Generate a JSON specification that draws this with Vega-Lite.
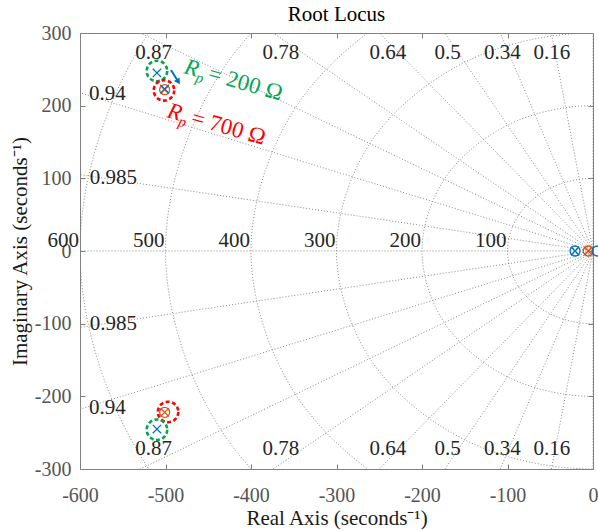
{
  "$schema": "https://vega.github.io/schema/vega-lite/v6.json",
  "width": 513,
  "height": 436,
  "autosize": {"type": "none"},
  "padding": {"left": 80, "top": 33, "right": 5, "bottom": 62},
  "title": {
    "text": "Root Locus",
    "font": "Liberation Serif",
    "fontSize": 21,
    "fontWeight": "normal",
    "color": "#000000",
    "anchor": "middle",
    "offset": 8,
    "dy": 10
  },
  "config": {
    "view": {"stroke": null},
    "axis": {
      "labelFont": "Liberation Serif",
      "labelFontSize": 20,
      "labelColor": "#555555",
      "titleFont": "Liberation Serif",
      "titleFontSize": 21,
      "titleFontWeight": "normal",
      "titleColor": "#1a1a1a",
      "domainColor": "#808080",
      "tickColor": "#808080",
      "tickSize": -5,
      "grid": false,
      "labelFlush": false,
      "labelExpr": "replace(datum.label, '\u2212', '-')"
    }
  },
  "datasets": {
    "dampingLines": [
      {"g": "0.16", "i": 0, "x": -112, "y": 691}, {"g": "0.16", "i": 1, "x": 0, "y": 0}, {"g": "0.16", "i": 2, "x": -112, "y": -691},
      {"g": "0.34", "i": 0, "x": -238, "y": 658.3}, {"g": "0.34", "i": 1, "x": 0, "y": 0}, {"g": "0.34", "i": 2, "x": -238, "y": -658.3},
      {"g": "0.5", "i": 0, "x": -350, "y": 606.2}, {"g": "0.5", "i": 1, "x": 0, "y": 0}, {"g": "0.5", "i": 2, "x": -350, "y": -606.2},
      {"g": "0.64", "i": 0, "x": -448, "y": 537.9}, {"g": "0.64", "i": 1, "x": 0, "y": 0}, {"g": "0.64", "i": 2, "x": -448, "y": -537.9},
      {"g": "0.78", "i": 0, "x": -546, "y": 438}, {"g": "0.78", "i": 1, "x": 0, "y": 0}, {"g": "0.78", "i": 2, "x": -546, "y": -438},
      {"g": "0.87", "i": 0, "x": -609, "y": 345.1}, {"g": "0.87", "i": 1, "x": 0, "y": 0}, {"g": "0.87", "i": 2, "x": -609, "y": -345.1},
      {"g": "0.94", "i": 0, "x": -658, "y": 238.8}, {"g": "0.94", "i": 1, "x": 0, "y": 0}, {"g": "0.94", "i": 2, "x": -658, "y": -238.8},
      {"g": "0.985", "i": 0, "x": -689.5, "y": 120.8}, {"g": "0.985", "i": 1, "x": 0, "y": 0}, {"g": "0.985", "i": 2, "x": -689.5, "y": -120.8},
      {"g": "1", "i": 0, "x": -700, "y": 0}, {"g": "1", "i": 1, "x": 0, "y": 0},
      {"g": "0", "i": 0, "x": 0, "y": 700}, {"g": "0", "i": 1, "x": 0, "y": -700}
    ],
    "frequencyArcs": [
      {"w": 100, "i": 0, "x": 50, "y": 86.6}, {"w": 100, "i": 1, "x": 0, "y": 100}, {"w": 100, "i": 2, "x": -50, "y": 86.6},
      {"w": 100, "i": 3, "x": -86.6, "y": 50}, {"w": 100, "i": 4, "x": -100, "y": 0}, {"w": 100, "i": 5, "x": -86.6, "y": -50},
      {"w": 100, "i": 6, "x": -50, "y": -86.6}, {"w": 100, "i": 7, "x": 0, "y": -100}, {"w": 100, "i": 8, "x": 50, "y": -86.6},
      {"w": 200, "i": 0, "x": 100, "y": 173.2}, {"w": 200, "i": 1, "x": 0, "y": 200}, {"w": 200, "i": 2, "x": -100, "y": 173.2},
      {"w": 200, "i": 3, "x": -173.2, "y": 100}, {"w": 200, "i": 4, "x": -200, "y": 0}, {"w": 200, "i": 5, "x": -173.2, "y": -100},
      {"w": 200, "i": 6, "x": -100, "y": -173.2}, {"w": 200, "i": 7, "x": 0, "y": -200}, {"w": 200, "i": 8, "x": 100, "y": -173.2},
      {"w": 300, "i": 0, "x": 150, "y": 259.8}, {"w": 300, "i": 1, "x": 0, "y": 300}, {"w": 300, "i": 2, "x": -150, "y": 259.8},
      {"w": 300, "i": 3, "x": -259.8, "y": 150}, {"w": 300, "i": 4, "x": -300, "y": 0}, {"w": 300, "i": 5, "x": -259.8, "y": -150},
      {"w": 300, "i": 6, "x": -150, "y": -259.8}, {"w": 300, "i": 7, "x": 0, "y": -300}, {"w": 300, "i": 8, "x": 150, "y": -259.8},
      {"w": 400, "i": 0, "x": 200, "y": 346.4}, {"w": 400, "i": 1, "x": 0, "y": 400}, {"w": 400, "i": 2, "x": -200, "y": 346.4},
      {"w": 400, "i": 3, "x": -346.4, "y": 200}, {"w": 400, "i": 4, "x": -400, "y": 0}, {"w": 400, "i": 5, "x": -346.4, "y": -200},
      {"w": 400, "i": 6, "x": -200, "y": -346.4}, {"w": 400, "i": 7, "x": 0, "y": -400}, {"w": 400, "i": 8, "x": 200, "y": -346.4},
      {"w": 500, "i": 0, "x": 250, "y": 433}, {"w": 500, "i": 1, "x": 0, "y": 500}, {"w": 500, "i": 2, "x": -250, "y": 433},
      {"w": 500, "i": 3, "x": -433, "y": 250}, {"w": 500, "i": 4, "x": -500, "y": 0}, {"w": 500, "i": 5, "x": -433, "y": -250},
      {"w": 500, "i": 6, "x": -250, "y": -433}, {"w": 500, "i": 7, "x": 0, "y": -500}, {"w": 500, "i": 8, "x": 250, "y": -433},
      {"w": 600, "i": 0, "x": 300, "y": 519.6}, {"w": 600, "i": 1, "x": 0, "y": 600}, {"w": 600, "i": 2, "x": -300, "y": 519.6},
      {"w": 600, "i": 3, "x": -519.6, "y": 300}, {"w": 600, "i": 4, "x": -600, "y": 0}, {"w": 600, "i": 5, "x": -519.6, "y": -300},
      {"w": 600, "i": 6, "x": -300, "y": -519.6}, {"w": 600, "i": 7, "x": 0, "y": -600}, {"w": 600, "i": 8, "x": 300, "y": -519.6}
    ],
    "dampingLabels": [
      {"t": "0.87", "x": -514, "y": 273}, {"t": "0.78", "x": -365, "y": 273}, {"t": "0.64", "x": -240, "y": 273},
      {"t": "0.5", "x": -170, "y": 273}, {"t": "0.34", "x": -106, "y": 273}, {"t": "0.16", "x": -48, "y": 273},
      {"t": "0.94", "x": -568, "y": 216}, {"t": "0.985", "x": -561, "y": 100.5},
      {"t": "0.87", "x": -514, "y": -273}, {"t": "0.78", "x": -365, "y": -273}, {"t": "0.64", "x": -240, "y": -273},
      {"t": "0.5", "x": -170, "y": -273}, {"t": "0.34", "x": -106, "y": -273}, {"t": "0.16", "x": -48, "y": -273},
      {"t": "0.94", "x": -568, "y": -216}, {"t": "0.985", "x": -561, "y": -100.5}
    ],
    "frequencyLabels": [
      {"t": "600", "x": -600, "y": 0}, {"t": "500", "x": -500, "y": 0}, {"t": "400", "x": -400, "y": 0},
      {"t": "300", "x": -300, "y": 0}, {"t": "200", "x": -200, "y": 0}, {"t": "100", "x": -100, "y": 0}
    ],
    "poles": [
      {"case": "700", "x": -501, "y": 222}, {"case": "700", "x": -501, "y": -222}, {"case": "700", "x": -5.5, "y": 0},
      {"case": "200", "x": -510, "y": 245}, {"case": "200", "x": -510, "y": -245}, {"case": "200", "x": -21, "y": 0},
      {"case": "200", "x": -501, "y": 223}
    ],
    "zeros": [
      {"case": "700", "x": -501, "y": 222}, {"case": "700", "x": -501, "y": -222}, {"case": "700", "x": -5.5, "y": 0},
      {"case": "200", "x": -21, "y": 0}, {"case": "200", "x": 5, "y": 0}
    ],
    "highlights": [
      {"case": "200", "x": -510, "y": 247.7}, {"case": "700", "x": -501.8, "y": 221},
      {"case": "700", "x": -497, "y": -221.5}, {"case": "200", "x": -510, "y": -246}
    ],
    "notes": [
      {"case": "200", "x": -479.5, "y": 245, "rest": "= 200 \u03a9"},
      {"case": "700", "x": -499.4, "y": 184.4, "rest": "= 700 \u03a9"}
    ],
    "arrow": [
      {"x0": -493.6, "y0": 249, "x1": -485, "y1": 233}
    ]
  },
  "resolve": {
    "axis": {"x": "independent", "y": "independent"},
    "scale": {"color": "independent"}
  },
  "layer": [
    {
      "data": {"name": "dampingLines"},
      "mark": {"type": "line", "clip": true, "color": "#8a8a8a", "strokeWidth": 1, "strokeDash": [1, 2]},
      "encoding": {
        "x": {
          "field": "x", "type": "quantitative",
          "scale": {"domain": [-600, 0], "nice": false, "zero": false},
          "axis": {
            "orient": "bottom",
            "values": [-600, -500, -400, -300, -200, -100, 0],
            "title": "Real Axis (seconds\u207b\u00b9)",
            "labelPadding": 21,
            "titlePadding": 2
          }
        },
        "y": {
          "field": "y", "type": "quantitative",
          "scale": {"domain": [-300, 300], "nice": false, "zero": false},
          "axis": {
            "orient": "left",
            "values": [-300, -200, -100, 0, 100, 200, 300],
            "title": "Imaginary Axis (seconds\u207b\u00b9)",
            "labelPadding": 14,
            "titlePadding": 4
          }
        },
        "detail": {"field": "g", "type": "nominal"},
        "order": {"field": "i", "type": "quantitative"}
      }
    },
    {
      "data": {"name": "frequencyArcs"},
      "mark": {"type": "line", "clip": true, "color": "#8a8a8a", "strokeWidth": 1, "strokeDash": [1, 2], "interpolate": "catmull-rom"},
      "encoding": {
        "x": {"field": "x", "type": "quantitative", "scale": {"domain": [-600, 0], "nice": false, "zero": false},
          "axis": {"orient": "top", "values": [-600, -500, -400, -300, -200, -100, 0], "labels": false, "title": null}},
        "y": {"field": "y", "type": "quantitative", "scale": {"domain": [-300, 300], "nice": false, "zero": false},
          "axis": {"orient": "right", "values": [-300, -200, -100, 0, 100, 200, 300], "labels": false, "title": null}},
        "detail": {"field": "w", "type": "nominal"},
        "order": {"field": "i", "type": "quantitative"}
      }
    },
    {
      "data": {"name": "dampingLabels"},
      "mark": {"type": "text", "font": "Liberation Serif", "fontSize": 21, "color": "#262626", "align": "center", "baseline": "middle"},
      "encoding": {
        "x": {"field": "x", "type": "quantitative", "scale": {"domain": [-600, 0], "nice": false, "zero": false}, "axis": null},
        "y": {"field": "y", "type": "quantitative", "scale": {"domain": [-300, 300], "nice": false, "zero": false}, "axis": null},
        "text": {"field": "t", "type": "nominal"}
      }
    },
    {
      "data": {"name": "frequencyLabels"},
      "mark": {"type": "text", "font": "Liberation Serif", "fontSize": 21, "color": "#262626", "align": "right", "baseline": "alphabetic", "dx": -1, "dy": -4},
      "encoding": {
        "x": {"field": "x", "type": "quantitative", "scale": {"domain": [-600, 0], "nice": false, "zero": false}, "axis": null},
        "y": {"field": "y", "type": "quantitative", "scale": {"domain": [-300, 300], "nice": false, "zero": false}, "axis": null},
        "text": {"field": "t", "type": "nominal"}
      }
    },
    {
      "data": {"name": "zeros"},
      "mark": {"type": "point", "shape": "circle", "filled": false, "size": 100, "strokeWidth": 1.3, "opacity": 1},
      "encoding": {
        "x": {"field": "x", "type": "quantitative", "scale": {"domain": [-600, 0], "nice": false, "zero": false}, "axis": null},
        "y": {"field": "y", "type": "quantitative", "scale": {"domain": [-300, 300], "nice": false, "zero": false}, "axis": null},
        "color": {"field": "case", "type": "nominal", "scale": {"domain": ["200", "700"], "range": ["#0072BD", "#D95319"]}, "legend": null}
      }
    },
    {
      "data": {"name": "poles"},
      "mark": {"type": "point", "shape": "M-1,-1L1,1M-1,1L1,-1", "filled": false, "size": 70, "strokeWidth": 1.3, "opacity": 1},
      "encoding": {
        "x": {"field": "x", "type": "quantitative", "scale": {"domain": [-600, 0], "nice": false, "zero": false}, "axis": null},
        "y": {"field": "y", "type": "quantitative", "scale": {"domain": [-300, 300], "nice": false, "zero": false}, "axis": null},
        "color": {"field": "case", "type": "nominal", "scale": {"domain": ["200", "700"], "range": ["#0072BD", "#D95319"]}, "legend": null}
      }
    },
    {
      "data": {"name": "highlights"},
      "mark": {"type": "point", "shape": "circle", "filled": false, "size": 420, "strokeWidth": 2.6, "strokeDash": [4, 2.5], "opacity": 1},
      "encoding": {
        "x": {"field": "x", "type": "quantitative", "scale": {"domain": [-600, 0], "nice": false, "zero": false}, "axis": null},
        "y": {"field": "y", "type": "quantitative", "scale": {"domain": [-300, 300], "nice": false, "zero": false}, "axis": null},
        "color": {"field": "case", "type": "nominal", "scale": {"domain": ["200", "700"], "range": ["#00A651", "#FF0000"]}, "legend": null}
      }
    },
    {
      "data": {"name": "notes"},
      "mark": {"type": "text", "text": "R", "font": "Liberation Serif", "fontStyle": "italic", "fontSize": 23, "align": "left", "baseline": "alphabetic", "angle": 16},
      "encoding": {
        "x": {"field": "x", "type": "quantitative", "scale": {"domain": [-600, 0], "nice": false, "zero": false}, "axis": null},
        "y": {"field": "y", "type": "quantitative", "scale": {"domain": [-300, 300], "nice": false, "zero": false}, "axis": null},
        "color": {"field": "case", "type": "nominal", "scale": {"domain": ["200", "700"], "range": ["#00A651", "#FF0000"]}, "legend": null}
      }
    },
    {
      "data": {"name": "notes"},
      "mark": {"type": "text", "text": "p", "font": "Liberation Serif", "fontStyle": "italic", "fontSize": 15, "align": "left", "baseline": "alphabetic", "angle": 16, "dx": 13.5, "dy": 5},
      "encoding": {
        "x": {"field": "x", "type": "quantitative", "scale": {"domain": [-600, 0], "nice": false, "zero": false}, "axis": null},
        "y": {"field": "y", "type": "quantitative", "scale": {"domain": [-300, 300], "nice": false, "zero": false}, "axis": null},
        "color": {"field": "case", "type": "nominal", "scale": {"domain": ["200", "700"], "range": ["#00A651", "#FF0000"]}, "legend": null}
      }
    },
    {
      "data": {"name": "notes"},
      "mark": {"type": "text", "font": "Liberation Serif", "fontSize": 23, "align": "left", "baseline": "alphabetic", "angle": 16, "dx": 25},
      "encoding": {
        "x": {"field": "x", "type": "quantitative", "scale": {"domain": [-600, 0], "nice": false, "zero": false}, "axis": null},
        "y": {"field": "y", "type": "quantitative", "scale": {"domain": [-300, 300], "nice": false, "zero": false}, "axis": null},
        "text": {"field": "rest", "type": "nominal"},
        "color": {"field": "case", "type": "nominal", "scale": {"domain": ["200", "700"], "range": ["#00A651", "#FF0000"]}, "legend": null}
      }
    },
    {
      "data": {"name": "arrow"},
      "mark": {"type": "rule", "color": "#0070C0", "strokeWidth": 2},
      "encoding": {
        "x": {"field": "x0", "type": "quantitative", "scale": {"domain": [-600, 0], "nice": false, "zero": false}, "axis": null},
        "y": {"field": "y0", "type": "quantitative", "scale": {"domain": [-300, 300], "nice": false, "zero": false}, "axis": null},
        "x2": {"field": "x1"},
        "y2": {"field": "y1"}
      }
    },
    {
      "data": {"name": "arrow"},
      "mark": {"type": "point", "shape": "triangle-up", "filled": true, "size": 45, "angle": 148, "color": "#0070C0", "opacity": 1},
      "encoding": {
        "x": {"field": "x1", "type": "quantitative", "scale": {"domain": [-600, 0], "nice": false, "zero": false}, "axis": null},
        "y": {"field": "y1", "type": "quantitative", "scale": {"domain": [-300, 300], "nice": false, "zero": false}, "axis": null}
      }
    }
  ]
}
